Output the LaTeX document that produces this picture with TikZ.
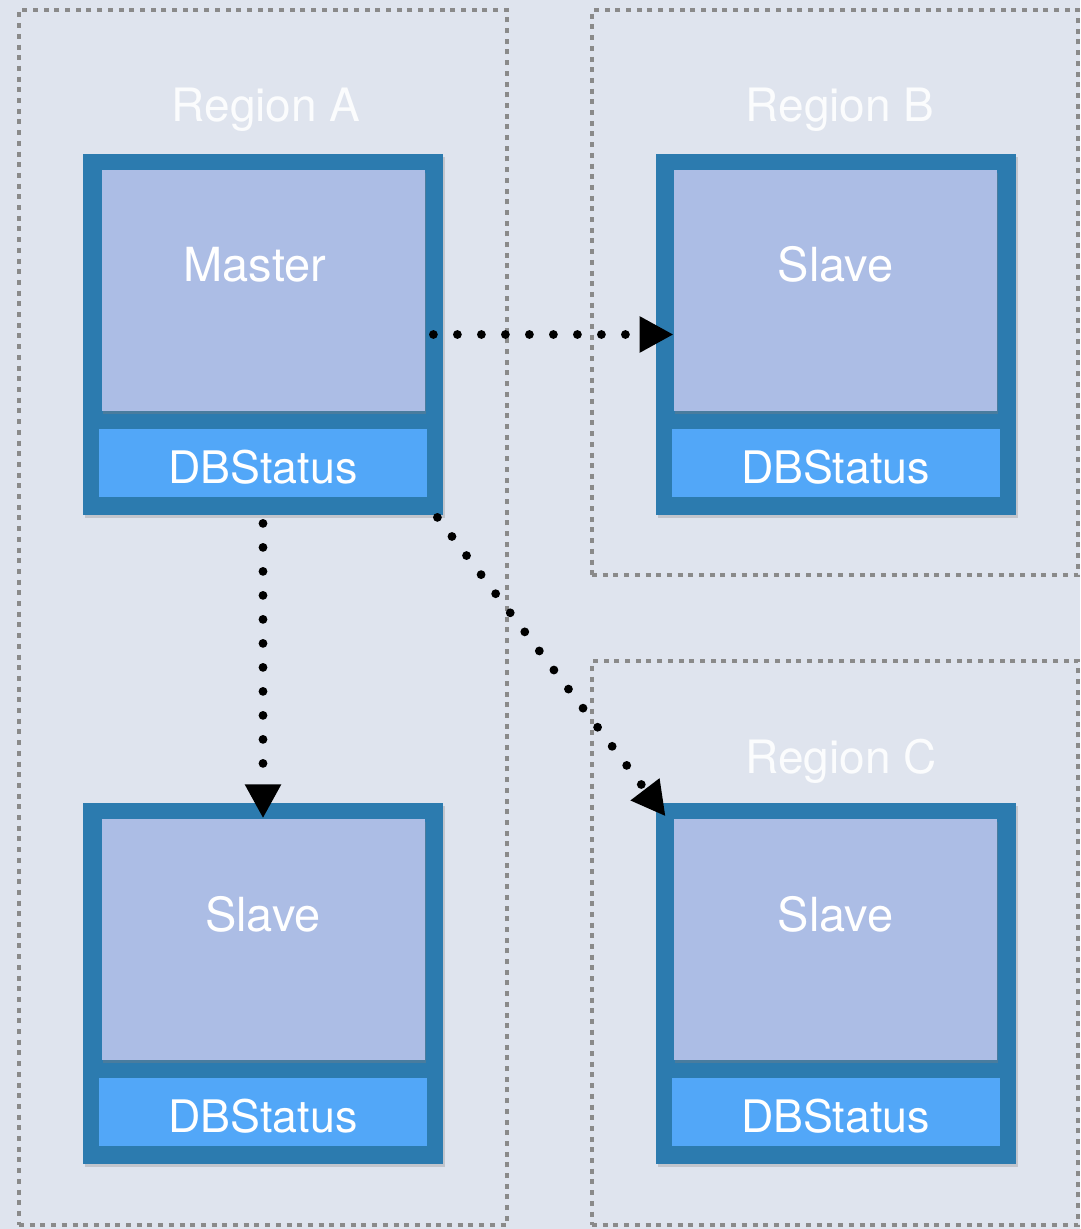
\documentclass[tikz,border=0pt]{standalone}
\usepackage{fontspec}
\setmainfont{TeX Gyre Heros}
\usetikzlibrary{arrows.meta,shadows}
\definecolor{bgcol}{HTML}{DFE4EE}
\definecolor{regcol}{HTML}{8A8A8A}
\definecolor{outercol}{HTML}{2C7BAF}
\definecolor{innercol}{HTML}{ACBDE5}
\definecolor{dbcol}{HTML}{52A7F8}
\definecolor{labelcol}{HTML}{FBFCFD}
\begin{document}
\begin{tikzpicture}[x=0.5pt,y=-0.5pt,
  regionbox/.style={draw=regcol, line width=2.4pt, dash pattern=on 2.5pt off 2.85pt, inner sep=0pt},
  regtext/.style={text=labelcol, font=\fontsize{23}{27}\selectfont, anchor=base, inner sep=0pt},
  outerbox/.style={fill=outercol, minimum width=180pt, minimum height=180.5pt, inner sep=0pt,
    drop shadow={shadow xshift=1pt, shadow yshift=-1.5pt, opacity=0.3}},
  innerbox/.style={fill=innercol, minimum width=161.5pt, minimum height=120.5pt, inner sep=0pt,
    drop shadow={shadow xshift=0.5pt, shadow yshift=-1.5pt, opacity=0.35}},
  dbbox/.style={fill=dbcol, minimum width=164pt, minimum height=34pt, inner sep=0pt},
  boxtext/.style={text=white, font=\fontsize{23.5}{27}\selectfont, anchor=base, inner sep=0pt},
  dbtext/.style={text=white, font=\fontsize{22.4}{26}\selectfont, anchor=base, inner sep=0pt},
  repl/.style={line width=4.4pt, line cap=round, dash pattern=on 0pt off 12pt,
    -{Triangle[length=17pt,width=17pt]}}]
  \fill[bgcol] (0,0) rectangle (1080,1229);
  \useasboundingbox (0,0) rectangle (1080,1229);
  % regions
  \node[regionbox, minimum width=244pt, minimum height=607.5pt] (regionA) at (263,617.5) {};
  \node[regionbox, minimum width=243pt, minimum height=282.5pt] (regionB) at (835,292.5) {};
  \node[regionbox, minimum width=243pt, minimum height=282pt] (regionC) at (835,943) {};
  \node[regtext] (labelA) at (266,122) {Region A};
  \node[regtext] (labelB) at (840,122) {Region B};
  \node[regtext] (labelC) at (841,773) {Region C};
  % database boxes
  \foreach \n/\x/\y/\dx/\t in {master/263/334.5/-8/Master, slaveB/835.5/334.5/0/Slave,
      slaveA/263/983.5/0/Slave, slaveC/835.5/983.5/0/Slave} {
    \node[outerbox] (\n) at (\x,\y) {};
    \node[innerbox] (\n-in) at (\x,\y-44.25) {};
    \node[dbbox] (\n-db) at (\x,\y+128.8) {};
    \node[boxtext] (\n-txt) at (\x+\dx,\y-52.5) {\t}; % name
    \node[dbtext] (\n-dbtxt) at (\x,\y+148.5) {DBStatus}; % status bar
  }
  % replication
  \draw[repl] ([xshift=-5pt]master.east) -- (master.east -| slaveB-in.west);
  \draw[repl] ([yshift=-4pt]master.south) -- (slaveA-in.north);
  \draw[repl] ([xshift=-3pt,yshift=-1pt]master.south east) -- ([xshift=-4pt,yshift=1pt]slaveC-in.north west);
\end{tikzpicture}
\end{document}
